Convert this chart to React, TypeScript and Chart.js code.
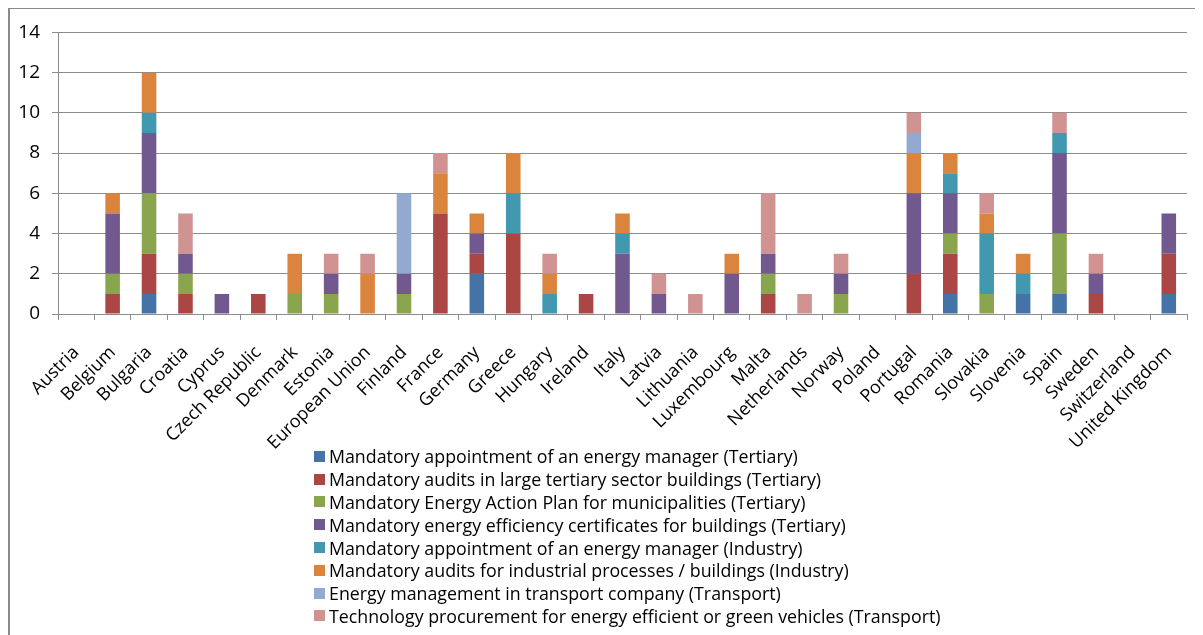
import React, { useEffect, useRef } from "react";
import { Chart, registerables } from "chart.js";

Chart.register(...registerables);

const countries = [
  "Austria", "Belgium", "Bulgaria", "Croatia", "Cyprus", "Czech Republic", "Denmark", "Estonia",
  "European Union", "Finland", "France", "Germany", "Greece", "Hungary", "Ireland", "Italy",
  "Latvia", "Lithuania", "Luxembourg", "Malta", "Netherlands", "Norway", "Poland", "Portugal",
  "Romania", "Slovakia", "Slovenia", "Spain", "Sweden", "Switzerland", "United Kingdom",
];

const seriesNames = [
  "Mandatory appointment of an energy manager (Tertiary)",
  "Mandatory audits in large tertiary sector buildings (Tertiary)",
  "Mandatory Energy Action Plan for municipalities (Tertiary)",
  "Mandatory energy efficiency certificates for buildings (Tertiary)",
  "Mandatory appointment of an energy manager (Industry)",
  "Mandatory audits for industrial processes / buildings (Industry)",
  "Energy management in transport company (Transport)",
  "Technology procurement for energy efficient or green vehicles (Transport)",
];

const seriesColors = ["#4572A7", "#AA4643", "#89A54E", "#71588F", "#4198AF", "#DB843D", "#93A9CF", "#D19392"];

// order follows countries
const energyManagerTertiary = [0, 0, 1, 0, 0, 0, 0, 0, 0, 0, 0, 2, 0, 0, 0, 0, 0, 0, 0, 0, 0, 0, 0, 0, 1, 0, 1, 1, 0, 0, 1];
const auditsTertiary =        [0, 1, 2, 1, 0, 1, 0, 0, 0, 0, 5, 1, 4, 0, 1, 0, 0, 0, 0, 1, 0, 0, 0, 2, 2, 0, 0, 0, 1, 0, 2];
const actionPlanTertiary =    [0, 1, 3, 1, 0, 0, 1, 1, 0, 1, 0, 0, 0, 0, 0, 0, 0, 0, 0, 1, 0, 1, 0, 0, 1, 1, 0, 3, 0, 0, 0];
const certificatesTertiary =  [0, 3, 3, 1, 1, 0, 0, 1, 0, 1, 0, 1, 0, 0, 0, 3, 1, 0, 2, 1, 0, 1, 0, 4, 2, 0, 0, 4, 1, 0, 2];
const energyManagerIndustry = [0, 0, 1, 0, 0, 0, 0, 0, 0, 0, 0, 0, 2, 1, 0, 1, 0, 0, 0, 0, 0, 0, 0, 0, 1, 3, 1, 1, 0, 0, 0];
const auditsIndustry =        [0, 1, 2, 0, 0, 0, 2, 0, 2, 0, 2, 1, 2, 1, 0, 1, 0, 0, 1, 0, 0, 0, 0, 2, 1, 1, 1, 0, 0, 0, 0];
const transportCompany =      [0, 0, 0, 0, 0, 0, 0, 0, 0, 4, 0, 0, 0, 0, 0, 0, 0, 0, 0, 0, 0, 0, 0, 1, 0, 0, 0, 0, 0, 0, 0];
const greenVehicles =         [0, 0, 0, 2, 0, 0, 0, 1, 1, 0, 1, 0, 0, 1, 0, 0, 1, 1, 0, 3, 1, 1, 0, 1, 0, 1, 0, 1, 1, 0, 0];

const seriesValues = [
  energyManagerTertiary, auditsTertiary, actionPlanTertiary, certificatesTertiary,
  energyManagerIndustry, auditsIndustry, transportCompany, greenVehicles,
];

const yTicks = [0, 2, 4, 6, 8, 10, 12, 14];

const FONT = "'Open Sans', Lato, sans-serif";

export default function App() {
  const canvasRef = useRef<HTMLCanvasElement | null>(null);

  useEffect(() => {
    const canvas = canvasRef.current;
    if (!canvas) return;
    const chart = new Chart(canvas, {
      type: "bar",
      data: {
        labels: countries,
        datasets: seriesNames.map((name, i) => ({
          label: name,
          data: seriesValues[i],
          backgroundColor: seriesColors[i],
          borderWidth: 0,
          categoryPercentage: 1,
          barPercentage: 0.4,
        })),
      },
      options: {
        responsive: false,
        animation: false,
        layout: { padding: { top: 22, right: 8, left: 0, bottom: 0 } },
        plugins: { legend: { display: false }, tooltip: { enabled: false } },
        scales: {
          x: {
            stacked: true,
            grid: {
              offset: true,
              drawOnChartArea: false,
              drawTicks: true,
              tickLength: 6,
              color: "#8c8c8c",
            },
            border: { display: true, color: "#8c8c8c", width: 1 },
            ticks: {
              autoSkip: false,
              minRotation: 45,
              maxRotation: 45,
              color: "#000",
              padding: 22,
              font: { family: FONT, size: 18 },
            },
            afterFit: (scale: any) => {
              scale.height = 135;
              scale.paddingRight = 0;
              scale.paddingLeft = 0;
            },
          },
          y: {
            stacked: true,
            min: 0,
            max: 14,
            afterBuildTicks: (scale: any) => {
              scale.ticks = yTicks.map((v) => ({ value: v }));
            },
            grid: {
              color: "#8c8c8c",
              tickLength: 6,
              drawTicks: true,
            },
            border: { display: true, color: "#8c8c8c", width: 1 },
            ticks: {
              color: "#000",
              padding: 12,
              font: { family: FONT, size: 19 },
            },
            afterFit: (scale: any) => {
              scale.width = 48;
            },
          },
        },
      },
    });
    return () => chart.destroy();
  }, []);

  return (
    <div
      style={{
        position: "relative",
        marginTop: -1,
        width: 1195,
        height: 628,
        borderLeft: "2px solid #8a8a8a",
        borderTop: "2px solid #8a8a8a",
        boxSizing: "border-box",
        overflow: "hidden",
        fontFamily: FONT,
      }}
    >
      <canvas
        ref={canvasRef}
        width={1185}
        height={440}
        style={{ position: "absolute", left: 0, top: 0, width: 1185, height: 440 }}
      />
      <div style={{ position: "absolute", left: 304, top: 436 }}>
        {seriesNames.map((name, i) => (
          <div
            key={name}
            style={{ display: "flex", alignItems: "center", height: 22.8, fontSize: 17.8, color: "#000", whiteSpace: "nowrap" }}
          >
            <span
              style={{ display: "inline-block", width: 11, height: 11, background: seriesColors[i], marginRight: 4 }}
            />
            <span>{name}</span>
          </div>
        ))}
      </div>
    </div>
  );
}
